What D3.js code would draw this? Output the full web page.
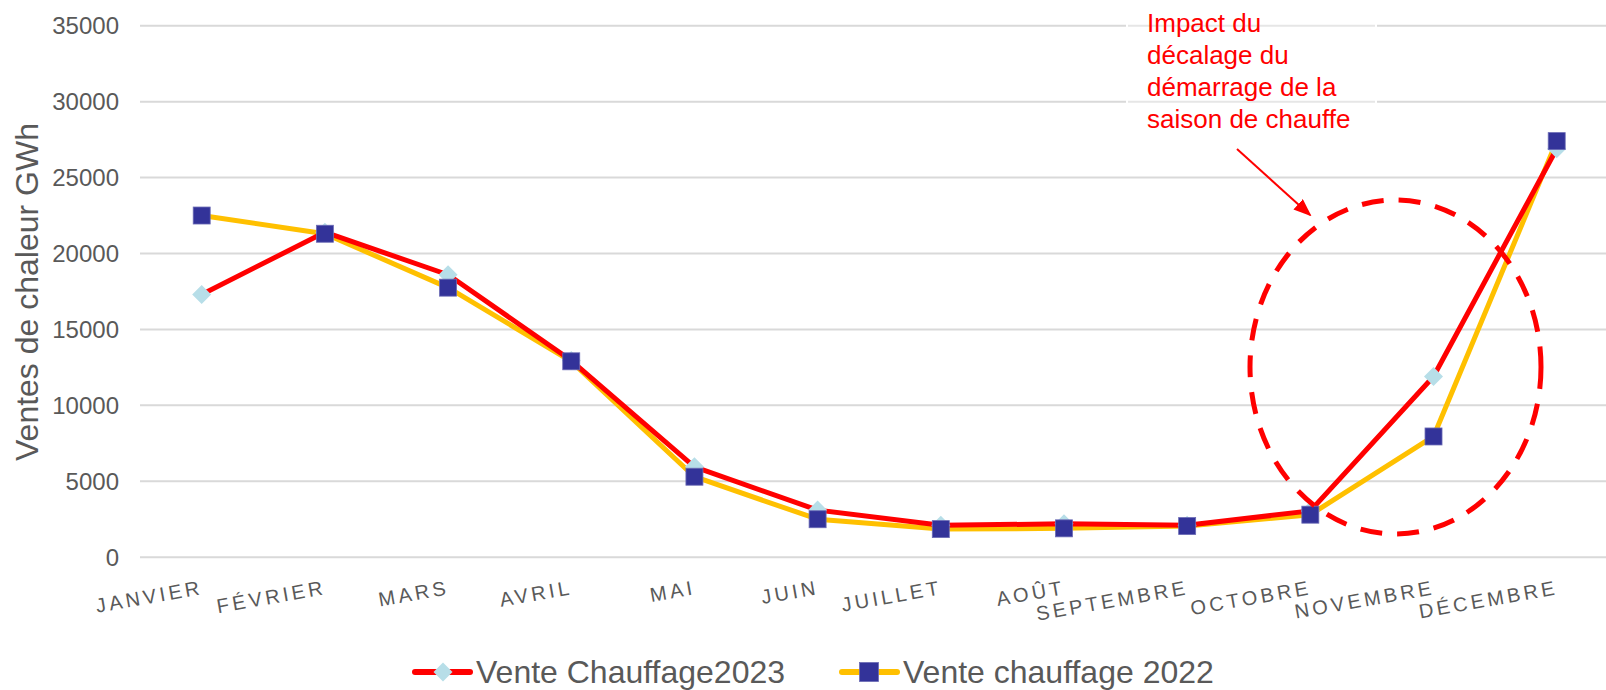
<!DOCTYPE html>
<html>

<head>
  <meta charset="UTF-8">
  <script src="https://d3js.org/d3.v7.js"></script>
  <style>
    body { margin: 0; background: #fff; }
    text { font-family: "Liberation Sans", Arial, sans-serif; }
  </style>
</head>

<body>
  <div id="chart"></div>

  <script>
    // data

    const months = ["JANVIER", "FÉVRIER", "MARS", "AVRIL", "MAI", "JUIN",
      "JUILLET", "AOÛT", "SEPTEMBRE", "OCTOBRE", "NOVEMBRE", "DÉCEMBRE"];
    const vente2023 = [17300, 21400, 18600, 12950, 5950, 3100, 2100, 2200, 2100, 3050, 11900, 26900];
    const vente2022 = [22500, 21300, 17750, 12900, 5300, 2500, 1850, 1900, 2050, 2800, 7950, 27400];
    const yTicks = [0, 5000, 10000, 15000, 20000, 25000, 30000, 35000];
    const seriesNames = ["Vente Chauffage2023", "Vente chauffage 2022"];
    const noteLines = ["Impact du", "décalage du", "démarrage de la", "saison de chauffe"];

    // set up

    const width = 1606;
    const height = 690;
    const gray = '#595959';

    const svg = d3.select('#chart')
      .append('svg')
        .attr('width', width)
        .attr('height', height);

    // scales

    const x = d3.scalePoint()
        .domain(months)
        .range([201.7, 1556.7]);

    const y = d3.scaleLinear()
        .domain([0, 35000])
        .range([557.2, 25.7]);

    // gridlines + y axis labels

    svg.append('g')
      .selectAll('line')
      .data(yTicks)
      .join('line')
        .attr('x1', 140)
        .attr('x2', width)
        .attr('y1', d => y(d))
        .attr('y2', d => y(d))
        .attr('stroke', '#d9d9d9')
        .attr('stroke-width', 2);

    svg.append('g')
      .selectAll('text')
      .data(yTicks)
      .join('text')
        .attr('x', 119)
        .attr('y', d => y(d))
        .attr('dy', '0.35em')
        .attr('text-anchor', 'end')
        .attr('font-size', 24)
        .attr('fill', gray)
        .text(d => d);

    svg.append('text')
        .attr('transform', 'translate(38,292) rotate(-90)')
        .attr('text-anchor', 'middle')
        .attr('font-size', 32)
        .attr('fill', gray)
        .text('Ventes de chaleur GWh');

    // x axis labels, tilted like excel does it

    svg.append('g')
      .selectAll('text')
      .data(months)
      .join('text')
        .attr('transform', d => `translate(${x(d) + 2},594) rotate(-10)`)
        .attr('text-anchor', 'end')
        .attr('font-size', 20)
        .attr('letter-spacing', 3.4)
        .attr('fill', gray)
        .text(d => d);

    // annotation text box (white fill over gridlines)

    svg.append('rect')
        .attr('x', 1127)
        .attr('y', 0)
        .attr('width', 249)
        .attr('height', 145)
        .attr('fill', '#fff')
        .attr('fill-opacity', 0.35)
        .attr('stroke', '#fff')
        .attr('stroke-width', 2);

    svg.append('text')
        .attr('font-size', 26)
        .attr('fill', '#ff0000')
      .selectAll('tspan')
      .data(noteLines)
      .join('tspan')
        .attr('x', 1147)
        .attr('y', (d, i) => 32 + i * 32)
        .text(d => d);

    // lines

    const line = d3.line()
        .x((d, i) => x(months[i]))
        .y(d => y(d));

    svg.append('path')
        .datum(vente2022)
        .attr('fill', 'none')
        .attr('stroke', '#ffc000')
        .attr('stroke-width', 5)
        .attr('stroke-linejoin', 'round')
        .attr('d', line);

    svg.append('path')
        .datum(vente2023)
        .attr('fill', 'none')
        .attr('stroke', '#ff0000')
        .attr('stroke-width', 5)
        .attr('stroke-linejoin', 'round')
        .attr('d', line);

    // markers

    const diamond = 'M0,-9.5L9.5,0L0,9.5L-9.5,0Z';

    svg.append('g')
      .selectAll('path')
      .data(vente2023)
      .join('path')
        .attr('transform', (d, i) => `translate(${x(months[i])},${y(d)})`)
        .attr('d', diamond)
        .attr('fill', '#b7dee8');

    svg.append('g')
      .selectAll('rect')
      .data(vente2022)
      .join('rect')
        .attr('x', (d, i) => x(months[i]) - 8.5)
        .attr('y', d => y(d) - 8.5)
        .attr('width', 17)
        .attr('height', 17)
        .attr('fill', '#333399')
        .attr('stroke', '#6b6bb5')
        .attr('stroke-width', 0.8);

    // dashed ellipse + arrow

    svg.append('ellipse')
        .attr('cx', 1395.5)
        .attr('cy', 367)
        .attr('rx', 145.5)
        .attr('ry', 167)
        .attr('fill', 'none')
        .attr('stroke', '#ff0000')
        .attr('stroke-width', 5)
        .attr('stroke-dasharray', '22,15');

    svg.append('defs')
      .append('marker')
        .attr('id', 'head')
        .attr('markerUnits', 'userSpaceOnUse')
        .attr('viewBox', '0 0 18 14')
        .attr('refX', 16)
        .attr('refY', 7)
        .attr('markerWidth', 18)
        .attr('markerHeight', 14)
        .attr('orient', 'auto')
      .append('path')
        .attr('d', 'M0,0L18,7L0,14Z')
        .attr('fill', '#ff0000');

    svg.append('line')
        .attr('x1', 1237)
        .attr('y1', 149)
        .attr('x2', 1310)
        .attr('y2', 215)
        .attr('stroke', '#ff0000')
        .attr('stroke-width', 2)
        .attr('marker-end', 'url(#head)');

    // legend

    const legend = svg.append('g');
    const legendX = [415, 842];
    const legendY = 672;

    legend.selectAll('line')
      .data(seriesNames)
      .join('line')
        .attr('x1', (d, i) => legendX[i])
        .attr('x2', (d, i) => legendX[i] + 55)
        .attr('y1', legendY)
        .attr('y2', legendY)
        .attr('stroke', (d, i) => i === 0 ? '#ff0000' : '#ffc000')
        .attr('stroke-width', 6)
        .attr('stroke-linecap', 'round');

    legend.append('path')
        .attr('transform', `translate(${legendX[0] + 28},${legendY})`)
        .attr('d', diamond)
        .attr('fill', '#b7dee8');

    legend.append('rect')
        .attr('x', legendX[1] + 27 - 9.5)
        .attr('y', legendY - 9.5)
        .attr('width', 19)
        .attr('height', 19)
        .attr('fill', '#333399')
        .attr('stroke', '#6b6bb5')
        .attr('stroke-width', 0.8);

    legend.selectAll('text')
      .data(seriesNames)
      .join('text')
        .attr('x', (d, i) => legendX[i] + 61)
        .attr('y', 683)
        .attr('font-size', 32)
        .attr('fill', gray)
        .text(d => d);
  </script>
</body>

</html>
